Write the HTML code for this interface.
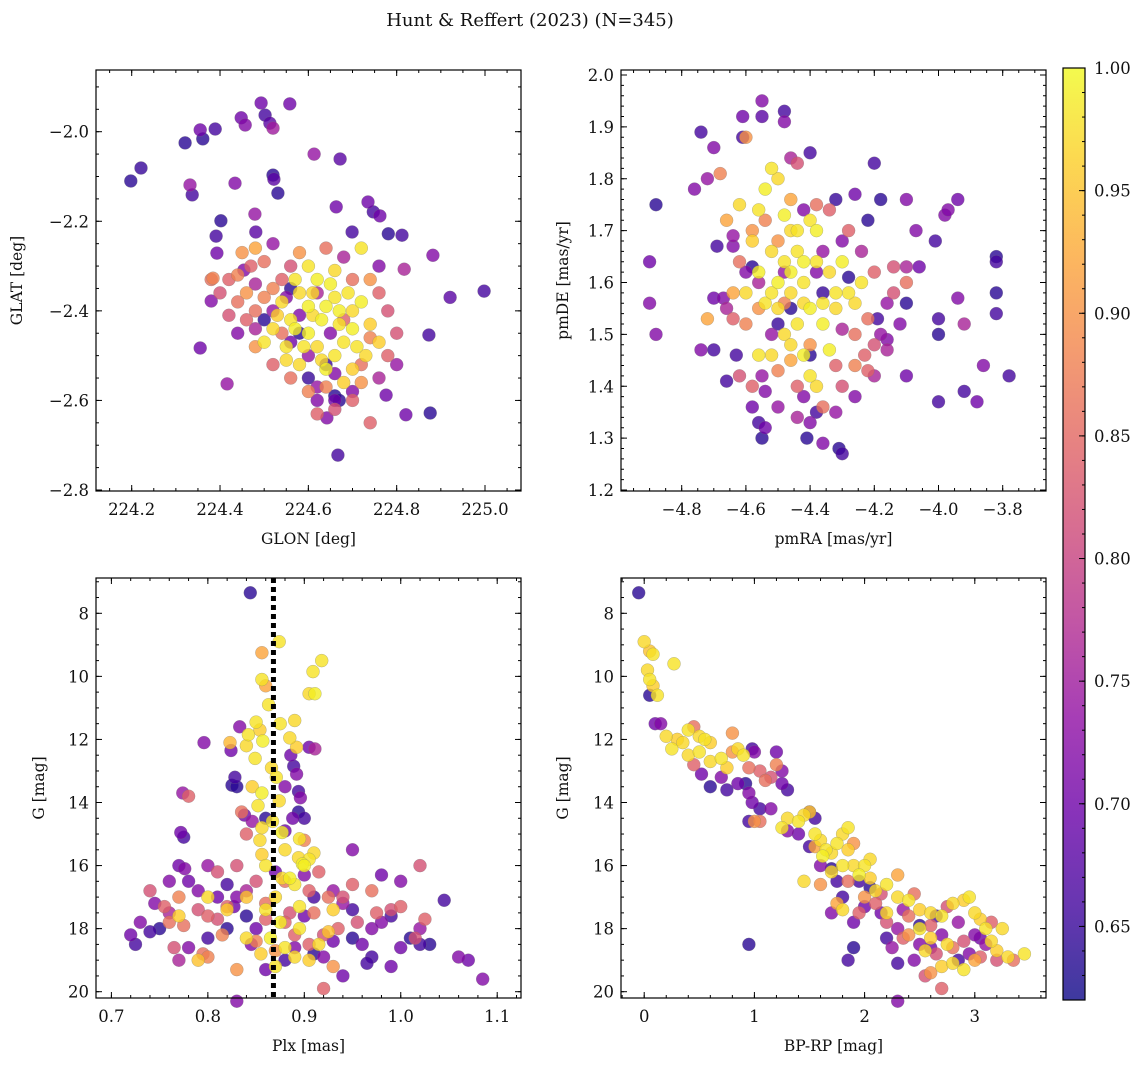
<!DOCTYPE html>
<html><head><meta charset="utf-8"><style>
html,body{margin:0;padding:0;background:#fff;}
svg text{font-family:"DejaVu Serif","Liberation Serif",serif;fill:#111;}
</style></head><body>
<svg id="fig" width="1148" height="1067" viewBox="0 0 1148 1067" xmlns="http://www.w3.org/2000/svg">
<text x="530" y="26" font-size="18" text-anchor="middle">Hunt &amp; Reffert (2023) (N=345)</text>
</svg>
<script>
// ---------- data (value arrays: [x, y, membership probability]) ----------
const posPoints = [
[224.198,-2.110,0.64],[224.221,-2.081,0.65],[224.321,-2.025,0.64],[224.355,-1.996,0.7],[224.361,-2.016,0.64],[224.389,-1.994,0.66],[224.448,-1.969,0.7],[224.457,-1.985,0.72],[224.493,-1.936,0.7],[224.502,-1.963,0.66],[224.513,-1.981,0.68],[224.520,-1.992,0.75],[224.558,-1.938,0.7],[224.332,-2.119,0.74],[224.337,-2.141,0.66],[224.434,-2.115,0.72],[224.402,-2.199,0.64],[224.391,-2.233,0.66],[224.479,-2.184,0.74],[224.481,-2.224,0.68],[224.520,-2.097,0.64],[224.522,-2.106,0.68],[224.531,-2.137,0.64],[224.613,-2.050,0.74],[224.672,-2.061,0.68],[224.663,-2.168,0.7],[224.699,-2.224,0.66],[224.735,-2.157,0.7],[224.747,-2.179,0.66],[224.762,-2.188,0.7],[224.781,-2.228,0.64],[224.812,-2.231,0.66],[224.817,-2.307,0.76],[224.882,-2.276,0.72],[224.921,-2.370,0.68],[224.998,-2.356,0.66],[224.873,-2.454,0.66],[224.876,-2.628,0.64],[224.821,-2.632,0.7],[224.776,-2.588,0.7],[224.667,-2.722,0.66],[224.642,-2.639,0.72],[224.416,-2.563,0.74],[224.355,-2.483,0.7],[224.380,-2.378,0.72],[224.384,-2.327,0.88],[224.393,-2.271,0.7],[224.454,-2.309,0.72],
[224.60,-2.30,0.98],[224.62,-2.33,0.99],[224.58,-2.36,0.97],[224.64,-2.39,0.99],[224.66,-2.37,0.98],[224.70,-2.40,0.97],[224.72,-2.38,0.99],[224.56,-2.42,0.98],[224.60,-2.45,0.99],[224.62,-2.48,0.97],[224.66,-2.50,0.98],[224.70,-2.44,0.99],[224.74,-2.43,0.96],[224.55,-2.48,0.98],[224.58,-2.52,0.97],[224.64,-2.53,0.99],[224.68,-2.47,0.98],[224.70,-2.53,0.96],[224.52,-2.44,0.97],[224.63,-2.42,0.99],[224.67,-2.43,0.98],[224.76,-2.47,0.96],[224.60,-2.39,0.99],[224.54,-2.38,0.97],[224.72,-2.26,0.98],[224.66,-2.31,0.97],[224.50,-2.47,0.98],[224.68,-2.56,0.96],[224.73,-2.50,0.97],
[224.57,-2.33,0.98],[224.61,-2.41,0.97],[224.65,-2.34,0.99],[224.59,-2.48,0.98],[224.63,-2.51,0.97],[224.67,-2.40,0.99],[224.53,-2.41,0.96],[224.69,-2.36,0.98],[224.61,-2.36,0.97],[224.57,-2.44,0.99],[224.71,-2.48,0.98],[224.55,-2.51,0.97],
[224.45,-2.27,0.9],[224.48,-2.26,0.92],[224.50,-2.29,0.86],[224.44,-2.32,0.88],[224.42,-2.33,0.84],[224.46,-2.36,0.9],[224.48,-2.40,0.86],[224.52,-2.35,0.88],[224.54,-2.33,0.84],[224.56,-2.30,0.82],[224.70,-2.33,0.86],[224.74,-2.33,0.9],[224.76,-2.36,0.84],[224.78,-2.40,0.82],[224.74,-2.46,0.88],[224.78,-2.50,0.84],[224.72,-2.56,0.9],[224.70,-2.60,0.84],[224.66,-2.62,0.82],[224.62,-2.63,0.84],[224.60,-2.58,0.88],[224.56,-2.55,0.86],[224.52,-2.52,0.84],[224.48,-2.48,0.9],[224.46,-2.42,0.84],[224.44,-2.38,0.86],[224.42,-2.41,0.82],[224.74,-2.65,0.84],[224.80,-2.45,0.82],[224.58,-2.27,0.9],[224.64,-2.26,0.86],[224.38,-2.33,0.86],[224.40,-2.36,0.82],
[224.50,-2.37,0.88],[224.54,-2.45,0.86],[224.68,-2.42,0.84],[224.72,-2.52,0.86],[224.64,-2.57,0.88],[224.47,-2.30,0.84],
[224.55,-2.37,0.72],[224.52,-2.40,0.74],[224.58,-2.41,0.72],[224.62,-2.36,0.76],[224.65,-2.45,0.72],[224.60,-2.50,0.74],[224.56,-2.47,0.7],[224.48,-2.34,0.76],[224.66,-2.54,0.72],[224.62,-2.57,0.74],[224.70,-2.58,0.72],[224.76,-2.55,0.76],[224.80,-2.52,0.74],[224.76,-2.30,0.72],[224.68,-2.28,0.76],[224.52,-2.25,0.74],[224.44,-2.45,0.72],[224.48,-2.44,0.76],[224.62,-2.60,0.72],[224.66,-2.60,0.7],
[224.56,-2.35,0.64],[224.58,-2.45,0.64],[224.64,-2.52,0.65],[224.66,-2.59,0.64],[224.67,-2.60,0.64],[224.60,-2.55,0.65],[224.50,-2.42,0.64]
];
const pmPoints = [
[-4.88,1.75,0.64],[-4.90,1.64,0.7],[-4.90,1.56,0.72],[-4.88,1.50,0.72],[-4.74,1.89,0.66],[-4.70,1.86,0.72],[-4.76,1.78,0.72],[-4.72,1.80,0.74],[-4.61,1.92,0.7],[-4.61,1.88,0.66],[-4.55,1.92,0.68],[-4.55,1.95,0.72],[-4.48,1.93,0.66],[-4.48,1.91,0.72],[-4.40,1.85,0.66],[-4.46,1.84,0.76],[-4.20,1.83,0.66],[-4.26,1.77,0.7],[-4.18,1.76,0.64],[-4.10,1.76,0.72],[-3.98,1.73,0.72],[-3.94,1.76,0.7],[-3.97,1.74,0.72],[-4.07,1.70,0.72],[-4.01,1.68,0.66],[-4.06,1.63,0.7],[-4.10,1.63,0.76],[-3.82,1.65,0.64],[-3.82,1.64,0.66],[-3.82,1.58,0.64],[-3.82,1.54,0.66],[-3.78,1.42,0.66],[-3.86,1.44,0.72],[-3.88,1.37,0.7],[-3.92,1.39,0.66],[-3.92,1.52,0.76],[-4.00,1.53,0.66],[-4.00,1.50,0.64],[-3.94,1.57,0.72],[-4.00,1.37,0.66],[-4.10,1.42,0.7],[-4.10,1.56,0.64],[-4.19,1.53,0.66],[-4.18,1.50,0.74],[-4.23,1.46,0.84],[-4.16,1.49,0.72],[-4.16,1.47,0.76],[-4.31,1.28,0.64],[-4.30,1.27,0.66],[-4.36,1.29,0.72],[-4.41,1.30,0.64],[-4.38,1.35,0.66],[-4.56,1.33,0.66],[-4.54,1.32,0.7],[-4.55,1.30,0.64],[-4.58,1.36,0.7],[-4.55,1.42,0.74],[-4.63,1.46,0.66],[-4.66,1.41,0.66],[-4.74,1.47,0.72],[-4.70,1.47,0.66],[-4.70,1.57,0.7],[-4.67,1.57,0.72],[-4.69,1.67,0.66],[-4.64,1.67,0.72],
[-4.52,1.82,0.98],[-4.50,1.80,0.97],[-4.54,1.78,0.99],[-4.56,1.74,0.98],[-4.48,1.73,0.99],[-4.46,1.70,0.97],[-4.40,1.72,0.98],[-4.38,1.70,0.99],[-4.44,1.66,0.98],[-4.52,1.66,0.97],[-4.56,1.62,0.99],[-4.60,1.58,0.97],[-4.54,1.56,0.98],[-4.50,1.60,0.99],[-4.46,1.58,0.97],[-4.42,1.60,0.98],[-4.40,1.55,0.99],[-4.36,1.56,0.98],[-4.34,1.62,0.97],[-4.30,1.64,0.99],[-4.28,1.58,0.98],[-4.32,1.55,0.97],[-4.36,1.52,0.99],[-4.44,1.52,0.98],[-4.48,1.50,0.97],[-4.56,1.46,0.98],[-4.52,1.46,0.97],[-4.40,1.42,0.98],[-4.38,1.40,0.97],[-4.34,1.47,0.99],[-4.24,1.60,0.98],[-4.26,1.56,0.97],[-4.42,1.64,0.99],[-4.48,1.64,0.98],[-4.62,1.75,0.97],[-4.32,1.58,0.98],[-4.58,1.68,0.96],
[-4.44,1.70,0.98],[-4.50,1.55,0.97],[-4.46,1.62,0.99],[-4.52,1.58,0.98],[-4.42,1.56,0.97],[-4.38,1.64,0.98],[-4.46,1.48,0.97],[-4.42,1.46,0.99],
[-4.58,1.70,0.9],[-4.62,1.64,0.86],[-4.64,1.58,0.92],[-4.60,1.52,0.88],[-4.64,1.53,0.84],[-4.56,1.55,0.9],[-4.58,1.40,0.84],[-4.50,1.43,0.88],[-4.46,1.45,0.92],[-4.44,1.40,0.84],[-4.36,1.36,0.86],[-4.30,1.40,0.82],[-4.26,1.44,0.88],[-4.22,1.43,0.84],[-4.20,1.48,0.82],[-4.22,1.53,0.86],[-4.20,1.62,0.84],[-4.14,1.63,0.82],[-4.10,1.60,0.86],[-4.14,1.58,0.82],[-4.38,1.75,0.86],[-4.34,1.74,0.84],[-4.46,1.76,0.92],[-4.50,1.68,0.9],[-4.54,1.72,0.88],[-4.68,1.81,0.88],[-4.66,1.72,0.92],[-4.28,1.70,0.84],[-4.26,1.50,0.86],[-4.32,1.44,0.84],[-4.40,1.48,0.9],[-4.48,1.56,0.88],[-4.62,1.42,0.82],[-4.44,1.83,0.82],[-4.72,1.53,0.92],[-4.60,1.88,0.9],
[-4.64,1.69,0.74],[-4.60,1.62,0.72],[-4.66,1.55,0.76],[-4.52,1.50,0.74],[-4.42,1.38,0.72],[-4.44,1.34,0.76],[-4.40,1.33,0.72],[-4.32,1.35,0.74],[-4.26,1.38,0.72],[-4.20,1.42,0.76],[-4.16,1.56,0.74],[-4.12,1.52,0.72],[-4.24,1.66,0.76],[-4.30,1.68,0.72],[-4.36,1.66,0.74],[-4.42,1.74,0.72],[-4.56,1.60,0.76],[-4.48,1.62,0.74],[-4.38,1.62,0.72],[-4.30,1.51,0.76],[-4.54,1.39,0.72],[-4.50,1.36,0.74],
[-4.46,1.55,0.64],[-4.36,1.58,0.65],[-4.28,1.61,0.64],[-4.40,1.46,0.64],[-4.50,1.52,0.65],[-4.58,1.63,0.64],[-4.22,1.72,0.64],[-4.32,1.76,0.65]
];
const plxPoints = [
[0.844,7.35,0.64],[0.874,8.9,0.98],[0.856,9.25,0.92],[0.856,10.1,0.98],[0.86,10.3,0.92],[0.918,9.5,0.98],[0.909,9.85,0.98],[0.905,10.55,0.97],[0.911,10.55,0.99],[0.863,10.9,0.98],[0.89,11.4,0.97],[0.85,11.45,0.98],[0.854,11.7,0.96],[0.842,11.85,0.98],[0.84,12.2,0.97],[0.823,12.1,0.94],[0.857,12.05,0.99],[0.875,11.5,0.98],[0.885,11.95,0.97],[0.892,12.25,0.96],[0.849,12.6,0.98],[0.866,12.9,0.97],[0.871,13.2,0.98],[0.846,13.5,0.96],[0.856,13.7,0.99],[0.874,13.95,0.97],[0.852,14.1,0.98],[0.856,14.8,0.97],[0.867,14.6,0.98],[0.877,14.95,0.99],[0.854,15.2,0.97],[0.895,15.15,0.98],[0.894,15.75,0.97],[0.898,15.95,0.99],[0.856,15.65,0.96],[0.89,16.6,0.98],[0.877,16.4,0.97],
[0.833,11.6,0.72],[0.824,12.35,0.7],[0.828,13.2,0.66],[0.825,13.45,0.64],[0.796,12.1,0.72],[0.838,14.4,0.7],[0.846,14.6,0.74],[0.886,12.5,0.7],[0.889,12.85,0.66],[0.892,13.1,0.72],[0.905,12.25,0.7],[0.911,12.3,0.76],[0.894,13.65,0.66],[0.896,13.85,0.72],[0.888,14.5,0.7],[0.894,14.3,0.64],[0.776,16.1,0.72],[0.772,14.95,0.7],[0.774,13.7,0.74],[0.827,17.3,0.7],
[0.72,18.2,0.7],[0.73,17.8,0.72],[0.725,18.5,0.66],[0.745,17.2,0.72],[0.75,18.0,0.64],[0.76,16.5,0.72],[0.76,17.5,0.76],[0.775,15.1,0.66],[0.77,16.0,0.7],[0.79,16.8,0.72],[0.80,16.0,0.74],[0.81,17.0,0.7],[0.82,16.6,0.66],[0.83,17.0,0.72],[0.84,16.8,0.76],[0.84,17.6,0.64],[0.845,18.5,0.72],[0.85,18.0,0.7],[0.80,18.3,0.66],[0.78,18.6,0.72],[0.77,19.0,0.76],[0.83,20.3,0.72],[0.86,19.3,0.7],[0.88,19.0,0.66],[0.89,18.6,0.72],[0.90,17.6,0.7],[0.91,18.8,0.64],[0.92,18.9,0.72],[0.93,18.4,0.7],[0.94,17.2,0.74],[0.95,15.5,0.72],[0.95,17.4,0.66],[0.96,18.5,0.7],[0.97,18.0,0.72],[0.98,16.3,0.7],[0.99,17.6,0.66],[1.0,16.5,0.72],[1.0,18.6,0.7],[1.01,18.3,0.64],[1.02,18.5,0.66],[1.03,18.5,0.64],[1.045,17.1,0.66],[1.06,18.9,0.72],[1.07,19.0,0.7],[1.085,19.6,0.72],[1.02,18.0,0.74],[0.97,18.9,0.66],[0.94,19.5,0.7],[0.90,16.3,0.72],[0.91,17.0,0.66],[0.93,16.8,0.74],[0.95,18.3,0.64],[0.98,17.8,0.72],[0.99,19.2,0.7],[0.965,19.1,0.66],[0.86,14.5,0.64],[0.88,14.9,0.7],[0.90,14.5,0.66],[0.88,13.5,0.72],[0.83,13.5,0.64],[0.78,16.5,0.7],[0.74,18.1,0.66],[0.82,18.0,0.64],[0.87,16.2,0.7],
[0.74,16.8,0.82],[0.755,17.3,0.84],[0.76,17.8,0.86],[0.765,18.6,0.82],[0.77,17.0,0.88],[0.78,13.8,0.84],[0.79,17.4,0.82],[0.795,18.8,0.86],[0.80,17.6,0.84],[0.81,16.2,0.82],[0.815,18.2,0.88],[0.82,17.3,0.84],[0.83,16.0,0.82],[0.835,14.3,0.86],[0.84,15.0,0.84],[0.85,16.5,0.82],[0.85,18.4,0.88],[0.86,17.7,0.84],[0.88,16.5,0.86],[0.885,17.5,0.82],[0.89,18.2,0.84],[0.90,15.2,0.88],[0.905,16.8,0.84],[0.91,17.5,0.86],[0.915,16.2,0.84],[0.92,18.2,0.82],[0.925,17.0,0.86],[0.935,18.0,0.84],[0.94,17.0,0.82],[0.95,16.6,0.84],[0.955,17.8,0.82],[0.97,16.8,0.86],[0.975,17.5,0.84],[0.99,17.4,0.82],[1.0,17.3,0.84],[1.015,18.3,0.82],[1.02,16.0,0.82],[1.025,17.7,0.84],[0.93,19.2,0.9],[0.92,19.9,0.84],[0.83,19.3,0.9],[0.80,18.9,0.88],[0.86,17.2,0.86],[0.87,18.7,0.9],[0.88,17.8,0.84],[0.81,17.7,0.82],[0.775,17.9,0.86],[0.905,18.5,0.84],
[0.86,16.0,0.98],[0.87,17.0,0.97],[0.875,17.8,0.99],[0.88,18.6,0.98],[0.89,18.9,0.97],[0.90,16.0,0.99],[0.91,15.6,0.97],[0.87,19.2,0.98],[0.855,18.8,0.96],[0.86,17.4,0.98],[0.84,17.0,0.95],[0.82,17.4,0.96],[0.80,17.0,0.97],[0.77,17.6,0.96],[0.79,19.0,0.95],[0.84,18.3,0.97],[0.895,17.3,0.98],[0.885,16.4,0.99],[0.88,15.5,0.97],[0.905,19.0,0.96],[0.895,18.0,0.98],[0.915,18.5,0.97],[0.925,18.1,0.95],[0.865,18.3,0.99],[0.905,15.8,0.98],[0.93,17.4,0.96]
];
const cmdPoints = [
[-0.05,7.35,0.64],[0.0,8.9,0.97],[0.05,9.2,0.95],[0.08,9.3,0.98],[0.03,9.8,0.97],[0.05,10.1,0.98],[0.08,10.3,0.96],[0.12,10.6,0.98],[0.05,10.6,0.64],[0.27,9.6,0.98],[0.1,11.5,0.7],[0.15,11.5,0.72],[0.2,11.9,0.97],[0.25,12.3,0.98],[0.3,12.0,0.96],[0.35,12.1,0.97],[0.4,11.7,0.98],[0.45,11.6,0.86],[0.5,11.9,0.97],[0.55,12.0,0.98],[0.6,12.1,0.96],[0.4,12.5,0.97],[0.45,12.8,0.84],[0.5,12.4,0.98],[0.6,12.7,0.97],[0.7,12.6,0.98],[0.75,12.9,0.96],[0.8,12.4,0.9],[0.8,11.8,0.9],[0.85,12.3,0.97],[0.9,12.5,0.98],[0.95,12.9,0.86],[1.05,13.0,0.84],[1.1,13.3,0.86],[1.15,13.2,0.82],[1.25,13.0,0.72],[1.2,12.8,0.88],
[0.52,13.1,0.7],[0.6,13.5,0.64],[0.7,13.2,0.72],[0.75,13.6,0.66],[0.85,13.4,0.7],[0.92,13.4,0.64],[0.95,13.7,0.72],[0.95,14.6,0.66],[0.98,14.0,0.7],[1.0,12.4,0.72],[0.98,12.3,0.66],[1.2,12.4,0.7],[1.05,14.2,0.66],[1.15,14.2,0.72],[1.25,13.4,0.7],[1.3,13.6,0.66],[1.4,15.0,0.7],[1.5,15.4,0.66],[1.6,16.0,0.72],[1.7,16.1,0.64],[1.75,16.5,0.66],[1.3,14.9,0.72],[1.5,14.3,0.7],[1.55,14.5,0.66],[0.95,18.5,0.64],[1.85,19.0,0.66],[1.9,18.6,0.64],[2.3,20.3,0.72],[2.3,19.1,0.66],[2.15,17.5,0.7],[1.8,17.0,0.66],[1.9,17.8,0.7],[1.7,17.5,0.72],[1.95,16.5,0.66],[2.0,17.3,0.7],[2.05,16.7,0.64],
[1.0,14.6,0.9],[1.05,14.6,0.86],[1.25,14.8,0.98],[1.3,14.5,0.97],[1.4,14.6,0.98],[1.45,14.4,0.97],[1.5,14.3,0.96],[1.55,15.0,0.98],[1.6,15.2,0.97],[1.62,15.7,0.99],[1.65,15.5,0.98],[1.7,15.6,0.97],[1.75,15.3,0.98],[1.8,15.0,0.97],[1.85,14.8,0.98],[1.85,15.5,0.96],[1.7,16.2,0.97],[1.8,16.0,0.98],[1.9,16.0,0.97],[1.95,16.3,0.99],[2.0,16.0,0.98],[2.05,16.4,0.96],[2.1,16.8,0.97],[2.2,16.6,0.98],[2.3,17.0,0.97],[2.4,17.1,0.98],[2.5,17.4,0.96],[2.6,17.5,0.97],[2.7,17.6,0.98],[2.8,17.2,0.97],[2.9,17.1,0.96],[2.95,17.0,0.98],[3.0,17.5,0.97],[3.05,17.7,0.96],[3.1,18.0,0.98],[3.15,18.4,0.97],[3.2,18.7,0.96],[3.3,18.9,0.97],[3.45,18.8,0.98],[2.75,18.5,0.97],[2.6,18.3,0.96],[2.5,18.0,0.98],[2.8,19.1,0.97],[2.9,19.3,0.98],[1.45,16.5,0.97],[1.6,16.6,0.9],[1.75,17.2,0.92],[1.8,17.4,0.97],[2.0,17.0,0.9],[2.2,17.5,0.97],[2.4,18.2,0.9],[2.55,18.7,0.97],[2.6,19.4,0.9],[2.7,19.2,0.96],[3.0,19.0,0.92],[3.25,18.0,0.97],[2.3,16.3,0.92],[2.05,15.8,0.97],[1.9,15.3,0.9],[1.55,15.4,0.92],
[2.1,17.2,0.84],[2.2,17.8,0.82],[2.3,18.0,0.74],[2.4,17.6,0.86],[2.5,18.5,0.72],[2.6,17.9,0.84],[2.65,18.8,0.82],[2.7,18.2,0.72],[2.8,18.6,0.86],[2.85,17.8,0.74],[2.9,18.4,0.82],[3.0,18.2,0.72],[3.05,18.9,0.84],[3.1,18.5,0.74],[3.2,19.0,0.82],[3.35,19.0,0.86],[2.7,19.9,0.84],[2.55,19.5,0.82],[2.45,19.0,0.72],[2.35,18.3,0.84],[2.25,18.6,0.74],[2.95,18.8,0.72],[3.15,17.8,0.84],[2.75,17.3,0.82],[2.45,16.9,0.86],[2.35,17.4,0.74],[2.15,16.9,0.82],[1.95,17.5,0.84],[1.85,16.5,0.86],[2.6,18.6,0.7],[2.85,19.0,0.66],[3.05,18.3,0.7],[2.65,17.6,0.66],[2.5,17.9,0.64],[2.2,18.3,0.66]
];
const posXTicks = [224.2,224.4,224.6,224.8,225.0];
const posYTicks = [-2.0,-2.2,-2.4,-2.6,-2.8];
const pmXTicks = [-4.8,-4.6,-4.4,-4.2,-4.0,-3.8];
const pmYTicks = [2.0,1.9,1.8,1.7,1.6,1.5,1.4,1.3,1.2];
const plxXTicks = [0.7,0.8,0.9,1.0,1.1];
const gTicks = [8,10,12,14,16,18,20];
const bprpTicks = [0,1,2,3];
const cbarTicks = [1.00,0.95,0.90,0.85,0.80,0.75,0.70,0.65];
const plxReference = [0.868];
const cmin = 0.62, cmax = 1.0;

// ---------- helpers ----------
const NS = "http://www.w3.org/2000/svg";
const svg = document.getElementById('fig');
const FS = 16.5;
function mk(tag, attrs, parent){const e=document.createElementNS(NS,tag);for(const k in attrs)e.setAttribute(k,attrs[k]);(parent||svg).appendChild(e);return e;}
const plasma=[[13,8,135],[65,4,157],[106,0,168],[143,13,164],[177,42,144],[204,71,120],[225,100,98],[242,132,75],[252,166,54],[252,206,37],[240,249,33]];
function cmap(v){let t=(v-cmin)/(cmax-cmin);t=Math.max(0,Math.min(1,t));const f=t*10,i=Math.min(9,Math.floor(f)),r=f-i;const a=plasma[i],b=plasma[i+1];return `rgb(${Math.round(a[0]+(b[0]-a[0])*r)},${Math.round(a[1]+(b[1]-a[1])*r)},${Math.round(a[2]+(b[2]-a[2])*r)})`;}
function lin(d0,p0,d1,p1){return v=>p0+(v-d0)*(p1-p0)/(d1-d0);}
function fmt(v,dec){return (v<0?'\u2212':'')+Math.abs(v).toFixed(dec);}

function panel(o){
  const g=mk('g',{});
  
  
  const {L,R,T,B}=o;
  const pg=mk('g',{},g);
  
  
  const sorted=o.pts.slice().sort((a,b)=>a[2]-b[2]);
  sorted.forEach(p=>{
    const c=mk('circle',{cx:o.sx(p[0]).toFixed(1),cy:o.sy(p[1]).toFixed(1),r:6.5,fill:cmap(p[2]),'fill-opacity':0.8,stroke:'#777','stroke-opacity':0.5,'stroke-width':0.5},pg);
    
    
  });
  if(o.extra)o.extra(g);
  const fr=mk('rect',{x:L,y:T,width:R-L,height:B-T,fill:'none',stroke:'#000','stroke-width':1.2},g);
  
  
  const tg=mk('g',{stroke:'#000','stroke-width':1},g);
  function minor(lo,hi,step,f){const out=[];for(let v=Math.ceil(lo/step-1e-6)*step;v<=hi+1e-9;v+=step)out.push(f(v));return out;}
  const xlo=o.sx.inv(L),xhi=o.sx.inv(R);
  minor(Math.min(xlo,xhi),Math.max(xlo,xhi),o.xmin,o.sx).forEach(x=>{if(x>L&&x<R){mk('line',{x1:x,y1:B,x2:x,y2:B-3},tg);mk('line',{x1:x,y1:T,x2:x,y2:T+3},tg);}});
  const ylo=o.sy.inv(B),yhi=o.sy.inv(T);
  minor(Math.min(ylo,yhi),Math.max(ylo,yhi),o.ymin,o.sy).forEach(y=>{if(y>T&&y<B){mk('line',{x1:L,y1:y,x2:L+3,y2:y},tg);mk('line',{x1:R,y1:y,x2:R-3,y2:y},tg);}});
  o.xt.forEach(v=>{const x=o.sx(v);mk('line',{x1:x,y1:B,x2:x,y2:B-6},tg);mk('line',{x1:x,y1:T,x2:x,y2:T+6},tg);
    const t=mk('text',{x:x,y:B+24,'font-size':FS,'text-anchor':'middle'},g);t.textContent=fmt(v,o.xdec);
    
    });
  o.yt.forEach(v=>{const y=o.sy(v);mk('line',{x1:L,y1:y,x2:L+6,y2:y},tg);mk('line',{x1:R,y1:y,x2:R-6,y2:y},tg);
    const t=mk('text',{x:L-7,y:y+6,'font-size':FS,'text-anchor':'end'},g);t.textContent=fmt(v,o.ydec);
    
    });
  const xl=mk('text',{x:(L+R)/2,y:B+53,'font-size':15.5,'text-anchor':'middle'},g);xl.textContent=o.xlabel;
  
  
  const yl=mk('text',{x:0,y:0,'font-size':15.5,'text-anchor':'middle',transform:`translate(${o.ylx},${(T+B)/2}) rotate(-90)`},g);yl.textContent=o.ylabel;
  
  
}
function scale(d0,p0,d1,p1){const f=lin(d0,p0,d1,p1);f.inv=lin(p0,d0,p1,d1);return f;}

const gScaleY=scale(8,613.3,20,991.7);
panel({name:'position-panel',L:96,R:521,T:70,B:491,pts:posPoints,sx:scale(224.2,131.7,225.0,485),sy:scale(-2.0,131.7,-2.8,490),xt:posXTicks,yt:posYTicks,xmin:0.05,ymin:0.05,xdec:1,ydec:1,xlabel:'GLON [deg]',ylabel:'GLAT [deg]',ylx:22});
panel({name:'proper-motion-panel',L:621,R:1046,T:70,B:491,pts:pmPoints,sx:scale(-4.8,681.7,-3.8,1002.7),sy:scale(2.0,75,1.2,490),xt:pmXTicks,yt:pmYTicks,xmin:0.05,ymin:0.02,xdec:1,ydec:1,xlabel:'pmRA [mas/yr]',ylabel:'pmDE [mas/yr]',ylx:568});
const plxX=scale(0.7,111.4,1.1,497.2);
panel({name:'parallax-panel',L:96,R:521,T:578,B:998,pts:plxPoints,sx:plxX,sy:gScaleY,xt:plxXTicks,yt:gTicks,xmin:0.02,ymin:0.5,xdec:1,ydec:0,xlabel:'Plx [mas]',ylabel:'G [mag]',ylx:44,
  extra:g=>{plxReference.forEach(v=>{const l=mk('line',{x1:plxX(v),y1:578,x2:plxX(v),y2:998,stroke:'#000','stroke-width':5,'stroke-dasharray':'5,4'},g);
    
    });}});
panel({name:'cmd-panel',L:621,R:1046,T:578,B:998,pts:cmdPoints,sx:scale(0,644.2,3,974.8),sy:gScaleY,xt:bprpTicks,yt:gTicks,xmin:0.2,ymin:0.5,xdec:0,ydec:0,xlabel:'BP-RP [mag]',ylabel:'G [mag]',ylx:568});

// ---------- colorbar ----------
const cb=mk('g',{});


const CT=68,CB=1000,CL=1063,CR=1085;
const cy=scale(cmin,CB,cmax,CT);
const defs=mk('defs',{},cb);
const grad=mk('linearGradient',{id:'cg',x1:0,y1:1,x2:0,y2:0},defs);
for(let i=0;i<=10;i++){mk('stop',{offset:i/10,'stop-color':cmap(cmin+(cmax-cmin)*i/10)},grad);}
mk('rect',{x:CL,y:CT,width:CR-CL,height:CB-CT,fill:'url(#cg)','fill-opacity':0.8},cb);
mk('rect',{x:CL,y:CT,width:CR-CL,height:CB-CT,fill:'none',stroke:'#000','stroke-width':1.2},cb);
for(let v=0.63;v<1.0;v+=0.01){const y=cy(v);mk('line',{x1:CR,y1:y,x2:CR-3,y2:y,stroke:'#000'},cb);}
cbarTicks.forEach(v=>{const y=cy(v);mk('line',{x1:CR,y1:y,x2:CR-6,y2:y,stroke:'#000'},cb);
  const t=mk('text',{x:CR+9,y:y+6,'font-size':FS},cb);t.textContent=v.toFixed(2);
  
  });
</script>
</body></html>
